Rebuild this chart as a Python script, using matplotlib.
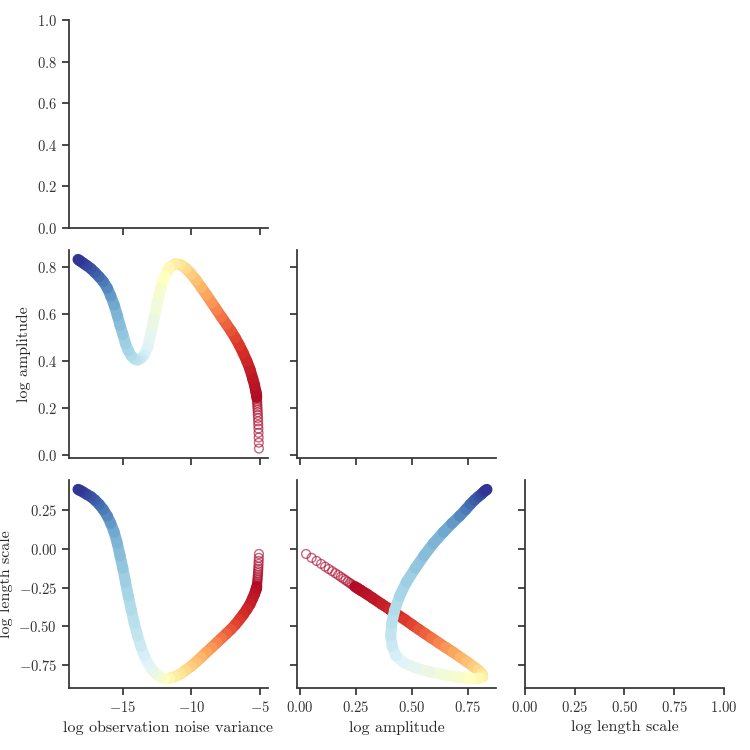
import numpy as np
import matplotlib
matplotlib.use("Agg")
import matplotlib.pyplot as plt
from matplotlib.collections import LineCollection

# ---- data: optimisation path of three log hyper-parameters (start -> end) ----
progress = [0.000, 0.0015, 0.003, 0.0045, 0.006, 0.0075, 0.009, 0.0105, 0.012, 0.0135,
            0.015, 0.0165, 0.018, 0.0195, 0.021, 0.0225, 0.024,
            0.027, 0.031, 0.037, 0.045, 0.058, 0.072, 0.088, 0.105, 0.125, 0.148,
            0.170, 0.195, 0.220, 0.250, 0.275, 0.300, 0.325, 0.350, 0.375, 0.400,
            0.430, 0.460, 0.490, 0.515, 0.535, 0.555, 0.575, 0.590, 0.610, 0.630,
            0.650, 0.665, 0.680, 0.700, 0.715, 0.735, 0.755, 0.775, 0.795, 0.820,
            0.850, 0.880, 0.900, 0.925, 0.945, 0.960, 0.975, 0.985, 0.993, 1.000]
log_noise = [-5.07, -5.08, -5.09, -5.10, -5.11, -5.12, -5.13, -5.14, -5.15, -5.16,
             -5.17, -5.18, -5.19, -5.20, -5.21, -5.22, -5.23,
             -5.25, -5.30, -5.40, -5.52, -5.72, -5.95, -6.22, -6.50, -6.80, -7.12,
             -7.45, -7.80, -8.15, -8.52, -8.90, -9.28, -9.65, -10.02, -10.40, -10.80,
             -11.20, -11.60, -11.95, -12.25, -12.50, -12.75, -12.98, -13.20, -13.45, -13.70,
             -13.95, -14.18, -14.40, -14.62, -14.82, -15.02, -15.22, -15.42, -15.65, -15.90,
             -16.15, -16.45, -16.75, -17.05, -17.35, -17.65, -17.90, -18.10, -18.22, -18.29]
log_amp = [0.028, 0.053, 0.075, 0.095, 0.113, 0.129, 0.144, 0.158, 0.171, 0.183,
           0.194, 0.204, 0.214, 0.223, 0.231, 0.239, 0.246,
           0.258, 0.272, 0.300, 0.325, 0.365, 0.400, 0.435, 0.468, 0.500, 0.530,
           0.558, 0.588, 0.618, 0.650, 0.683, 0.715, 0.745, 0.772, 0.795, 0.812,
           0.815, 0.800, 0.765, 0.710, 0.650, 0.580, 0.515, 0.462, 0.428, 0.412,
           0.405, 0.410, 0.423, 0.445, 0.475, 0.515, 0.553, 0.595, 0.640, 0.678,
           0.712, 0.740, 0.760, 0.778, 0.795, 0.808, 0.818, 0.826, 0.831, 0.834]
log_ls = [-0.033, -0.058, -0.078, -0.097, -0.115, -0.130, -0.144, -0.157, -0.169, -0.181,
          -0.192, -0.202, -0.212, -0.221, -0.229, -0.237, -0.244,
          -0.255, -0.268, -0.293, -0.318, -0.357, -0.390, -0.425, -0.457, -0.490, -0.520,
          -0.548, -0.577, -0.606, -0.637, -0.668, -0.700, -0.730, -0.758, -0.783, -0.808,
          -0.826, -0.836, -0.838, -0.829, -0.815, -0.795, -0.768, -0.735, -0.690, -0.630,
          -0.560, -0.480, -0.395, -0.305, -0.215, -0.125, -0.045, 0.035, 0.108, 0.165,
          0.212, 0.255, 0.288, 0.315, 0.337, 0.352, 0.366, 0.376, 0.381, 0.384]
n_sparse = 17  # first iterations are far apart and show as open circles

var_names = ["log observation noise variance", "log amplitude", "log length scale"]
variables = [log_noise, log_amp, log_ls]

amp_ticks = [0.00, 0.25, 0.50, 0.75]
ls_ticks = [-0.75, -0.50, -0.25, 0.00, 0.25]
empty_ticks = [0.00, 0.25, 0.50, 0.75, 1.00]

plt.rcParams.update({
    "font.family": "serif",
    "font.serif": ["cmr10"],
    "mathtext.fontset": "cm",
    "axes.formatter.use_mathtext": True,
    "axes.spines.top": False,
    "axes.spines.right": False,
    "axes.edgecolor": "#333333",
    "axes.linewidth": 1.25,
    "xtick.direction": "out",
    "ytick.direction": "out",
    "xtick.major.size": 5,
    "ytick.major.size": 5,
    "xtick.major.width": 1.25,
    "ytick.major.width": 1.25,
    "xtick.color": "#333333",
    "ytick.color": "#333333",
    "xtick.labelsize": 10.5,
    "ytick.labelsize": 10.5,
    "axes.labelsize": 11.5,
    "text.color": "#262626",
    "axes.labelcolor": "#262626",
})

cmap = plt.get_cmap("RdYlBu")
p = np.asarray(progress)

fig, axes = plt.subplots(3, 3, figsize=(7.5, 7.5), dpi=100, sharex="col", sharey="row")
fig.subplots_adjust(left=0.092, right=0.9653, bottom=0.0827, top=0.9733,
                    wspace=0.1457, hspace=0.1058)

for i in range(3):
    for j in range(3):
        ax = axes[i, j]
        if j > i:
            ax.set_visible(False)
            continue
        if j == i:
            continue
        x = np.asarray(variables[j])
        y = np.asarray(variables[i])
        # sparse start: open circles
        ax.scatter(x[:n_sparse], y[:n_sparse], s=40, facecolors="none",
                   edgecolors=cmap(p[:n_sparse]), linewidths=1.0, alpha=0.6, zorder=2)
        # dense remainder: a continuous coloured band
        pts = np.column_stack([x[n_sparse - 1:], y[n_sparse - 1:]])
        segs = np.stack([pts[:-1], pts[1:]], axis=1)
        pp = p[n_sparse - 1:]
        cols = cmap((pp[:-1] + pp[1:]) / 2)
        lc = LineCollection(segs, colors=cols, linewidths=8, capstyle="round",
                            joinstyle="round", zorder=3)
        ax.add_collection(lc, autolim=True)
        ax.autoscale_view()

axes[2, 1].set_xticks(amp_ticks)
axes[2, 2].set_xticks(empty_ticks)
axes[2, 0].set_yticks(ls_ticks)

for j in range(3):
    axes[2, j].set_xlabel(var_names[j])
axes[1, 0].set_ylabel(var_names[1])
axes[2, 0].set_ylabel(var_names[2])

fig.savefig("out.png", dpi=100)
